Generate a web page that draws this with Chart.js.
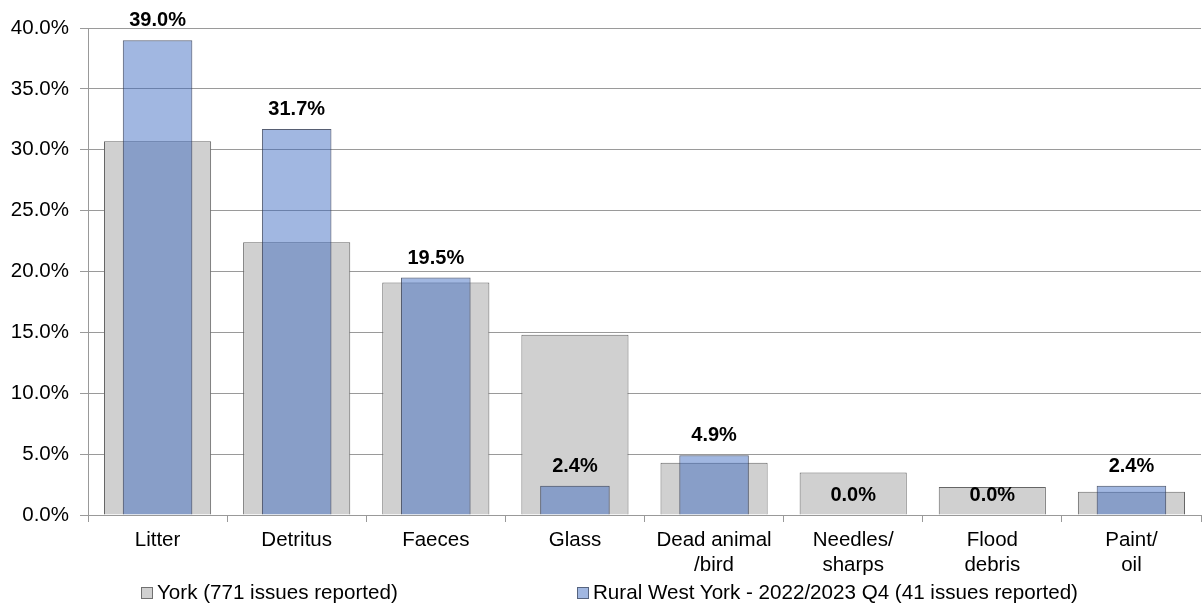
<!DOCTYPE html>
<html>
<head>
<meta charset="utf-8">
<script src="https://cdn.jsdelivr.net/npm/chart.js@4"></script>
<style>
  body { margin: 0; background: #fff; font-family: "Liberation Sans", Arial, sans-serif; }
  .wrap { position: relative; width: 1202px; height: 604px; }
  .legend-item { position: absolute; top: 580px; font-size: 20.6px; color: #000; white-space: nowrap; line-height: 24px; }
  .legend-item i { display: inline-block; width: 10px; height: 10px; margin-right: 4px; border: 1px solid #707070; vertical-align: 0px; }
</style>
</head>
<body>
<div class="wrap">
  <canvas id="myChart" width="1202" height="604"></canvas>
  <div class="legend-item" style="left:141px"><i style="background:#d0d0d0"></i><span id="lg0"></span></div>
  <div class="legend-item" style="left:577px"><i style="background:rgba(55,102,191,0.47);border-color:#56647f"></i><span id="lg1"></span></div>
</div>
<script>
const categories = ["Litter", "Detritus", "Faeces", "Glass", ["Dead animal", "/bird"], ["Needles/", "sharps"], ["Flood", "debris"], ["Paint/", "oil"]];
const yorkLabel = "York (771 issues reported)";
const ruralLabel = "Rural West York - 2022/2023 Q4 (41 issues reported)";
const yorkValues = [30.7, 22.4, 19.1, 14.8, 4.3, 3.5, 2.3, 1.9];
const ruralValues = [39.0, 31.7, 19.5, 2.4, 4.9, 0.0, 0.0, 2.4];
const yTicks = [0, 5, 10, 15, 20, 25, 30, 35, 40];

const FONT = "'Liberation Sans', Arial, sans-serif";

// labels above the blue bars only
const valueLabels = {
    id: 'valueLabels',
    afterDatasetsDraw(chart) {
        const ctx = chart.ctx;
        const meta = chart.getDatasetMeta(1);
        ctx.save();
        ctx.font = "bold 20px " + FONT;
        ctx.fillStyle = '#000';
        ctx.textAlign = 'center';
        ctx.textBaseline = 'middle';
        meta.data.forEach((bar, i) => {
            ctx.fillText(ruralValues[i].toFixed(1) + '%', bar.x, bar.y - 19.5);
        });
        ctx.restore();
    }
};

document.getElementById('lg0').textContent = yorkLabel;
document.getElementById('lg1').textContent = ruralLabel;

const ctx = document.getElementById('myChart').getContext('2d');
new Chart(ctx, {
    type: 'bar',
    data: {
        labels: categories,
        datasets: [{
            label: yorkLabel,
            data: yorkValues,
            backgroundColor: '#d0d0d0',
            borderColor: '#666',
            borderWidth: 1,
            grouped: false,
            categoryPercentage: 1,
            barPercentage: 0.77,
            order: 2
        }, {
            label: ruralLabel,
            data: ruralValues,
            backgroundColor: 'rgba(55,102,191,0.47)',
            borderColor: 'rgba(45,55,80,0.8)',
            borderWidth: 1,
            grouped: false,
            categoryPercentage: 1,
            barPercentage: 0.5,
            order: 1
        }]
    },
    options: {
        responsive: false,
        animation: false,
        layout: { padding: { top: 28, right: 1, left: 0, bottom: 0 } },
        plugins: {
            legend: { display: false },
            tooltip: { enabled: false }
        },
        scales: {
            x: {
                afterFit: (scale) => { scale.height = 89; },
                grid: {
                    offset: true,
                    drawOnChartArea: true,
                    color: (c) => c.index === categories.length ? '#b4b4b4' : 'transparent',
                    tickColor: '#999',
                    tickLength: 7
                },
                border: { color: '#999' },
                ticks: {
                    color: '#000',
                    padding: 6,
                    maxRotation: 0,
                    autoSkip: false,
                    font: { family: FONT, size: 20.5, lineHeight: 1.22 }
                }
            },
            y: {
                min: 0,
                max: 40,
                afterFit: (scale) => { scale.width = 88; },
                afterBuildTicks: (scale) => { scale.ticks = yTicks.map(v => ({ value: v })); },
                grid: { color: '#9a9a9a', tickLength: 8 },
                border: { color: '#999' },
                ticks: {
                    color: '#000',
                    padding: 11,
                    font: { family: FONT, size: 20.5 },
                    callback: (v) => v.toFixed(1) + '%'
                }
            }
        }
    },
    plugins: [valueLabels]
});
</script>
</body>
</html>
